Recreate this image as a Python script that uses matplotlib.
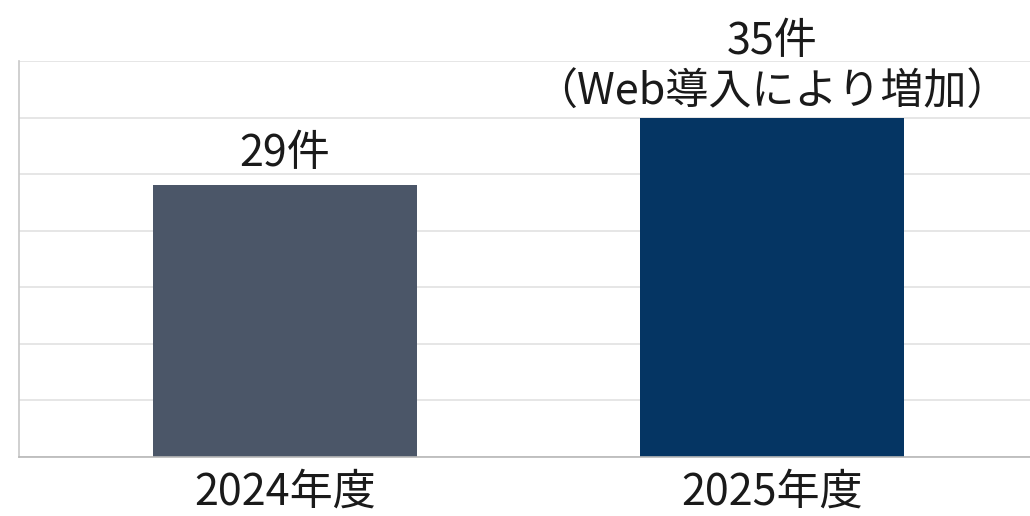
import matplotlib.pyplot as plt

plt.rcParams['font.family'] = ['Noto Sans CJK JP', 'DejaVu Sans']

years = ['2024年度', '2025年度']
counts = [29, 35]
labels = ['29件', '35件\n（Web導入により増加）']
colors = ['#4b5668', '#053563']

fig = plt.figure(figsize=(10.3, 5.16), dpi=100)
ax = fig.add_axes([19 / 1030, 1 - 457 / 516, 1 - 19 / 1030, (457 - 61) / 516])

x = range(len(years))
bars = ax.bar(x, counts, width=0.542, color=colors, zorder=2)

ax.set_ylim(5, 40)
ax.set_xlim(-0.546, 1.53)
ax.set_yticks(range(5, 41, 5))
ax.set_yticklabels([])
ax.tick_params(axis='y', length=0)
ax.tick_params(axis='x', length=0, pad=10, labelsize=31, colors='#1a1a1a')
ax.set_xticks(list(x))
ax.set_xticklabels(years)
ax.grid(axis='y', color='#e2e2e2', linewidth=1.2, zorder=0)

for s in ['top', 'right']:
    ax.spines[s].set_visible(False)
ax.spines['left'].set_color('#c8c8c8')
ax.spines['bottom'].set_color('#b8b8b8')
ax.spines['left'].set_linewidth(1.2)
ax.spines['bottom'].set_linewidth(1.2)

for xi, v, lab in zip(x, counts, labels):
    ax.annotate(lab, xy=(xi, v), xytext=(0, 2 if '\n' in lab else 7),
                textcoords='offset points', ha='center', va='bottom',
                fontsize=31, color='#1a1a1a', linespacing=1.2)

plt.savefig('out.png', dpi=100)
